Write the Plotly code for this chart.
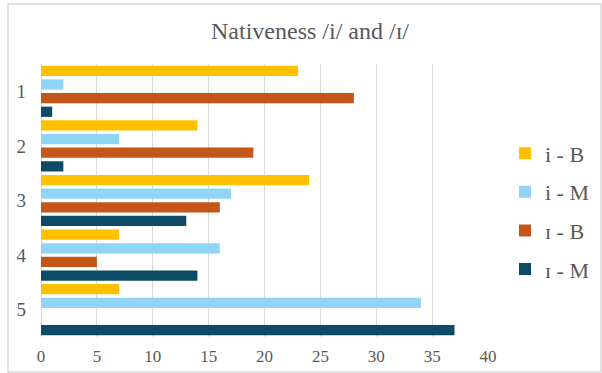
import plotly.graph_objects as go

# Response groups and counts per speaker/vowel series
categories = ["1", "2", "3", "4", "5"]
series_names = ["i - B", "i - M", "ɪ - B", "ɪ - M"]
i_B = [23, 14, 24, 7, 7]
i_M = [2, 7, 17, 16, 34]
ih_B = [28, 19, 16, 5, 0]
ih_M = [1, 2, 13, 14, 37]
x_ticks = [0, 5, 10, 15, 20, 25, 30, 35, 40]

colors = ["#FFC000", "#8FD6F6", "#C4561A", "#0C4A66"]
series_values = [i_B, i_M, ih_B, ih_M]

fig = go.Figure()
for name, vals, col in zip(series_names, series_values, colors):
    fig.add_trace(go.Bar(
        y=categories, x=vals, name=name, orientation="h",
        marker=dict(color=col, line=dict(width=0)),
        legendgroup=name,
    ))

W, H = 602, 373
L, R, T, B = 41, 114, 64, 36
pw, ph = W - L - R, H - T - B

# light outer frame of the chart area
fig.add_shape(
    type="rect", xref="paper", yref="paper",
    x0=(8 - L) / pw, x1=(601 - L) / pw,
    y0=(H - B - 372) / ph, y1=(H - B - 4) / ph,
    line=dict(color="#d9d9d9", width=1.5), fillcolor="rgba(0,0,0,0)", layer="below",
)

fig.update_layout(
    width=W, height=H,
    margin=dict(l=L, r=R, t=T, b=B, autoexpand=False),
    paper_bgcolor="white", plot_bgcolor="white",
    barmode="group", bargap=0.0, bargroupgap=0.25,
    title=dict(
        text="Nativeness /i/ and /ɪ/",
        x=310 / W, xref="container", xanchor="center",
        y=1 - 31 / H, yref="container", yanchor="middle",
        font=dict(family="Liberation Serif", size=24, color="#595959"),
    ),
    xaxis=dict(
        range=[0, 40], tickvals=x_ticks, showgrid=True, gridcolor="#d9d9d9", gridwidth=1,
        zeroline=True, zerolinecolor="#d9d9d9", zerolinewidth=1, showline=False,
        tickfont=dict(family="Liberation Serif", size=17, color="#595959"),
        ticks="", ticklabelstandoff=7, fixedrange=True,
    ),
    yaxis=dict(
        type="category", autorange="reversed", showgrid=False, zeroline=False, showline=False,
        tickfont=dict(family="Liberation Serif", size=19, color="#595959"),
        ticks="", ticklabelstandoff=14,
    ),
    legend=dict(
        x=(505 - L) / pw, xanchor="left", y=0.46, yanchor="middle",
        font=dict(family="Liberation Serif", size=22, color="#595959"),
        tracegroupgap=7, itemwidth=30, bgcolor="rgba(0,0,0,0)",
    ),
    showlegend=True,
)

fig.write_html("out.html")
